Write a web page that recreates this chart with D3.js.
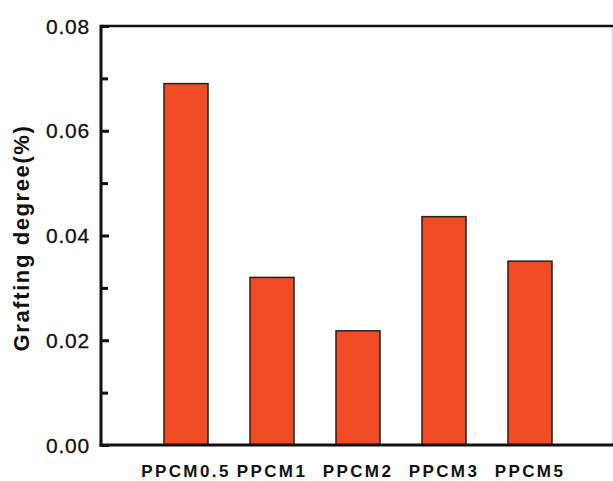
<!DOCTYPE html>
<html>
<head>
<meta charset="utf-8">
<script src="https://cdn.jsdelivr.net/npm/d3@7"></script>
<style>
  html, body { margin: 0; padding: 0; background: #fff; }
  svg { display: block; }
</style>
</head>
<body>
<script>
// Grafting degree of each PPCM sample
const categories = ["PPCM0.5", "PPCM1", "PPCM2", "PPCM3", "PPCM5"];
const values = [0.069, 0.032, 0.0218, 0.0436, 0.0351];
const yTicks = [0, 0.02, 0.04, 0.06, 0.08];
const yMinorTicks = [0.01, 0.03, 0.05, 0.07];

const W = 613, H = 481;
const plot = { left: 101, right: 612, top: 26, bottom: 445 };

const svg = d3.select("body").append("svg")
  .attr("width", W).attr("height", H);

const x = d3.scaleBand()
  .domain(categories)
  .range([143, 573])
  .paddingInner(0.488)
  .paddingOuter(0.244);

const y = d3.scaleLinear()
  .domain([0, 0.08])
  .range([plot.bottom, plot.top]);

// bars
svg.append("g").selectAll("rect")
  .data(values)
  .join("rect")
  .attr("x", (d, i) => x(categories[i]))
  .attr("y", d => y(d))
  .attr("width", x.bandwidth())
  .attr("height", d => y(0) - y(d))
  .attr("fill", "#f04b24")
  .attr("stroke", "#222")
  .attr("stroke-width", 1.5);

// frame: faint right edge, heavy top, left and bottom lines
svg.append("line")
  .attr("x1", plot.right).attr("x2", plot.right)
  .attr("y1", plot.top).attr("y2", plot.bottom)
  .attr("stroke", "#ccc").attr("stroke-width", 1);
svg.append("line")
  .attr("x1", plot.left).attr("x2", W)
  .attr("y1", plot.top).attr("y2", plot.top)
  .attr("stroke", "#111").attr("stroke-width", 2.5);

// y axis with inward ticks
const yAxis = d3.axisRight(y)
  .tickValues(yTicks)
  .tickSize(8)
  .tickFormat("");
const gy = svg.append("g")
  .attr("transform", `translate(${plot.left},0)`)
  .call(yAxis);
gy.select(".domain").remove();
gy.selectAll(".tick line").attr("stroke", "#111").attr("stroke-width", 3);

const yMinor = d3.axisRight(y).tickValues(yMinorTicks).tickSize(7).tickFormat("");
const gym = svg.append("g")
  .attr("transform", `translate(${plot.left},0)`)
  .call(yMinor);
gym.select(".domain").remove();
gym.selectAll(".tick line").attr("stroke", "#111").attr("stroke-width", 3);

// y tick labels
svg.append("g").selectAll("text")
  .data(yTicks)
  .join("text")
  .attr("x", 90)
  .attr("y", d => y(d))
  .attr("dy", "0.36em")
  .attr("text-anchor", "end")
  .attr("font-family", "Liberation Sans, Arial, sans-serif")
  .attr("font-size", 21)
  .attr("letter-spacing", 0.8)
  .attr("stroke", "#111")
  .attr("stroke-width", 0.3)
  .attr("fill", "#111")
  .text(d => d3.format(".2f")(d));

svg.append("line")
  .attr("x1", plot.left).attr("x2", plot.left)
  .attr("y1", plot.top - 1.25).attr("y2", plot.bottom + 1.5)
  .attr("stroke", "#111").attr("stroke-width", 3);
svg.append("line")
  .attr("x1", plot.left - 1.5).attr("x2", W)
  .attr("y1", plot.bottom).attr("y2", plot.bottom)
  .attr("stroke", "#111").attr("stroke-width", 3);

// x category labels
const xAxis = d3.axisBottom(x).tickSize(0).tickPadding(0);
const gx = svg.append("g")
  .attr("transform", `translate(0,${plot.bottom})`)
  .call(xAxis);
gx.select(".domain").remove();
gx.selectAll(".tick text")
  .attr("y", 32)
  .attr("dy", 0)
  .attr("font-family", "Liberation Sans, Arial, sans-serif")
  .attr("font-size", 17)
  .attr("font-weight", "bold")
  .attr("letter-spacing", 2.4)
  .attr("fill", "#111");

// y axis title
svg.append("text")
  .attr("transform", "translate(29,238) rotate(-90)")
  .attr("text-anchor", "middle")
  .attr("font-family", "Liberation Sans, Arial, sans-serif")
  .attr("font-size", 22)
  .attr("font-weight", "bold")
  .attr("letter-spacing", 1.6)
  .attr("fill", "#111")
  .text("Grafting degree(%)");
</script>
</body>
</html>
